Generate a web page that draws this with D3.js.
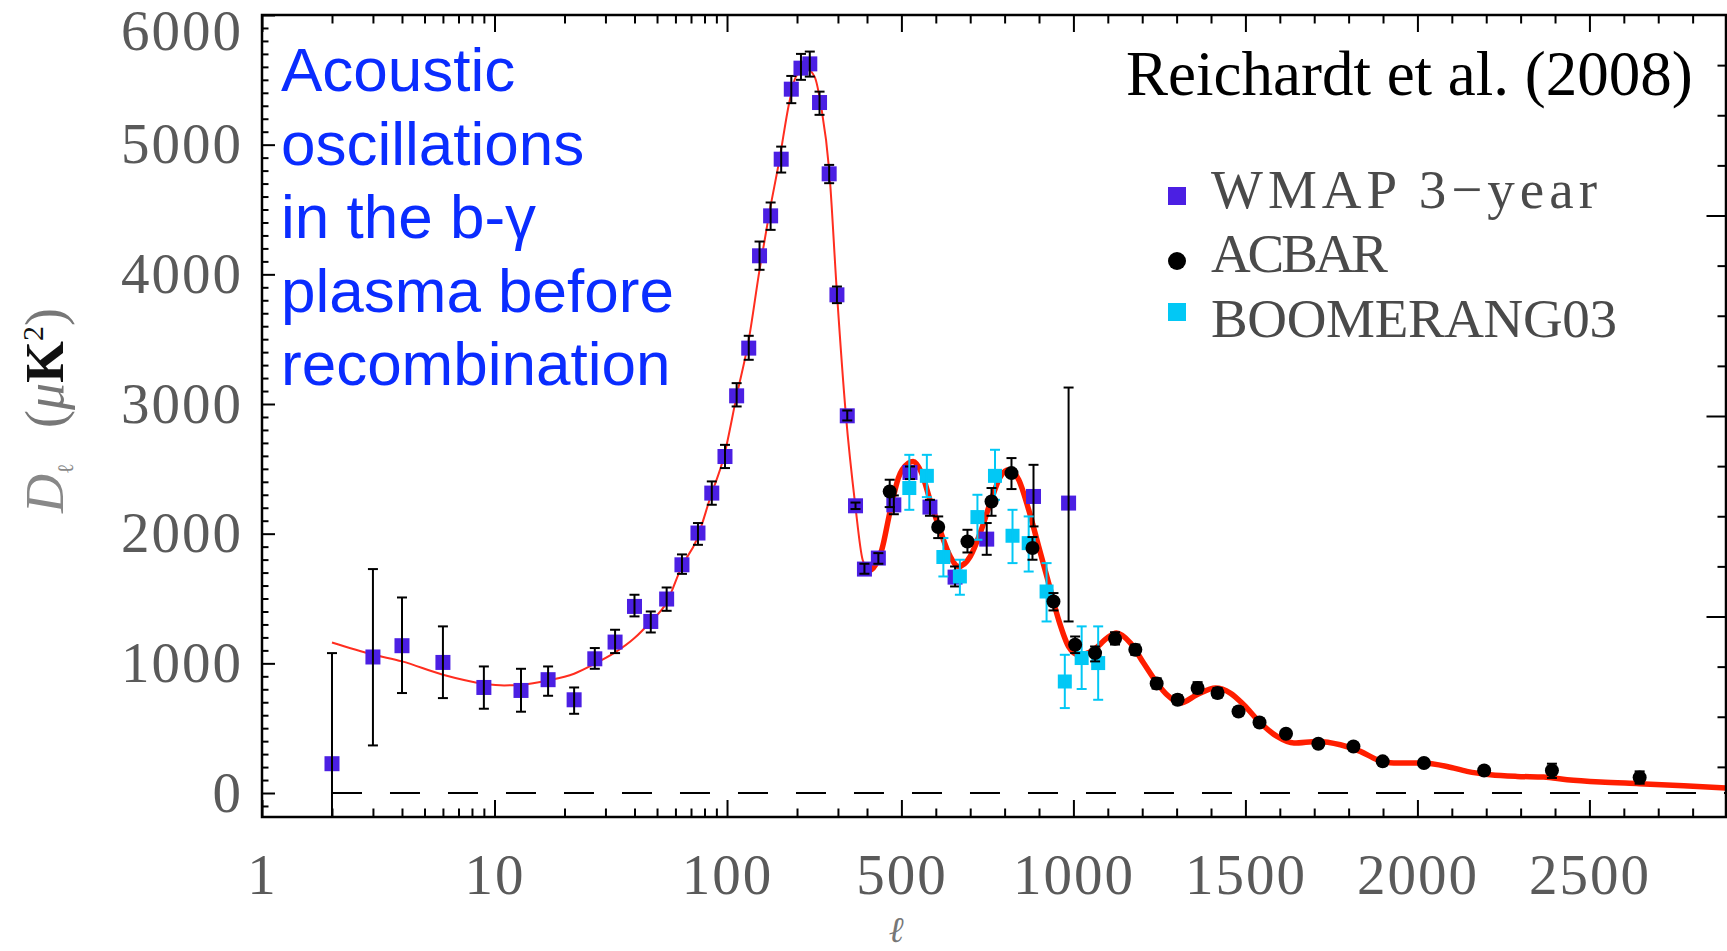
<!DOCTYPE html>
<html lang="en">
<head>
    <meta charset="UTF-8">
    <title>CMB power spectrum - Reichardt et al. (2008)</title>
    <script src="https://d3js.org/d3.v7.min.js"></script>
    <style>
        body { margin: 0; background: #fff; }
        .tick line { stroke: #000; stroke-width: 2; }
        .axis text { font-family: "Liberation Serif", serif; font-size: 57px; fill: #5a5a5a; letter-spacing: 2px; }
        .blue-note { font-family: "Liberation Sans", Arial, sans-serif; font-size: 62px; fill: #0a2cff; }
        .legend text { font-family: "Liberation Serif", serif; font-size: 55px; fill: #4a4a4a; }
    </style>
</head>
<body>
<div id="chart"></div>
<script>
    // WMAP 3-year band powers (ell, D_ell, error bar low / high), uK^2
    const wmapL  = [2, 3, 4, 6, 9, 13, 17, 22, 27, 33, 40, 47, 55, 64, 75, 86, 98, 110, 124, 138, 154, 171, 189, 208, 227, 250, 275, 297, 329, 357, 390, 433, 478, 525, 583, 656, 748, 884, 986];
    const wmapD  = [226, 1049, 1136, 1007, 814, 791, 874, 719, 1035, 1164, 1439, 1323, 1496, 1760, 2005, 2313, 2595, 3063, 3431, 4143, 4451, 4888, 5428, 5590, 5623, 5325, 4775, 3842, 2909, 2215, 1727, 1812, 2222, 2472, 2205, 1665, 1958, 2287, 2236];
    const wmapLo = [-900, 367, 771, 732, 650, 627, 750, 611, 958, 1079, 1362, 1238, 1405, 1690, 1914, 2223, 2506, 2981, 3341, 4035, 4343, 4785, 5320, 5500, 5525, 5230, 4703, 3778, 2873, 2190, 1691, 1768, 2150, 2421, 2138, 1593, 1837, 2056, 1323];
    const wmapHi = [1079, 1727, 1508, 1285, 976, 958, 976, 814, 1118, 1259, 1529, 1400, 1585, 1840, 2082, 2403, 2685, 3161, 3526, 4253, 4554, 4985, 5530, 5700, 5718, 5409, 4844, 3906, 2950, 2240, 1768, 1850, 2295, 2518, 2261, 1747, 2082, 2531, 3127];

    // ACBAR
    const acbarL  = [466, 607, 692, 762, 820, 881, 942, 1005, 1063, 1121, 1180, 1242, 1303, 1361, 1419, 1480, 1541, 1618, 1712, 1814, 1899, 2019, 2194, 2391, 2646];
    const acbarD  = [2325, 2051, 1940, 2248, 2467, 1889, 1477, 1143, 1079, 1190, 1105, 845, 719, 810, 771, 629, 544, 457, 380, 359, 244, 231, 174, 174, 120];
    const acbarLo = [2205, 1966, 1855, 2138, 2344, 1799, 1408, 1079, 1015, 1145, 1065, 805, 685, 770, 735, 600, 515, 430, 355, 335, 220, 208, 150, 116, 72];
    const acbarHi = [2416, 2133, 2030, 2352, 2583, 1974, 1542, 1207, 1130, 1240, 1145, 885, 755, 855, 810, 660, 575, 485, 405, 385, 268, 255, 198, 226, 167];

    // BOOMERANG03
    const boomL  = [523, 574, 622, 670, 721, 772, 823, 870, 922, 975, 1024, 1072];
    const boomD  = [2352, 2446, 1820, 1670, 2128, 2446, 1984, 1927, 1554, 860, 1041, 1002];
    const boomLo = [2184, 2282, 1670, 1529, 1953, 2261, 1773, 1708, 1323, 655, 802, 719];
    const boomHi = [2608, 2608, 1966, 1799, 2300, 2647, 2184, 2133, 1773, 1066, 1285, 1285];

    // best-fit model curve
    const modelL = [2, 3, 4, 6, 9, 11, 13, 17, 22, 27, 33, 40, 47, 55, 64, 74, 85, 97, 110, 124, 138, 152, 168, 185, 198, 218, 238, 254, 275, 297, 324, 356, 383, 405, 418, 443, 467, 491, 520, 534, 559, 583, 612, 642, 666, 700, 729, 758, 788, 812, 841, 870, 899, 928, 957, 986, 1015, 1059, 1098, 1125, 1166, 1204, 1243, 1272, 1311, 1359, 1413, 1456, 1495, 1544, 1592, 1641, 1709, 1776, 1834, 1883, 1931, 2009, 2086, 2144, 2212, 2290, 2367, 2435, 2532, 2645, 2774, 2897];
    const modelD = [1161, 1068, 1015, 912, 843, 830, 835, 868, 920, 997, 1084, 1195, 1323, 1470, 1750, 1953, 2287, 2595, 3063, 3495, 4035, 4472, 4883, 5320, 5525, 5590, 5525, 5294, 4806, 3855, 2930, 2223, 1799, 1715, 1735, 1876, 2171, 2429, 2544, 2557, 2467, 2261, 2030, 1824, 1747, 1824, 2005, 2236, 2441, 2493, 2416, 2184, 1901, 1619, 1336, 1130, 1066, 1105, 1195, 1234, 1156, 1002, 848, 758, 694, 758, 810, 771, 681, 540, 436, 385, 398, 372, 321, 257, 231, 231, 205, 167, 141, 128, 123, 103, 85, 72, 56, 39];

    // axis ticks
    const xMajorLog = [1, 10, 100];
    const xMinorLog = [2, 3, 4, 5, 6, 7, 8, 9, 20, 30, 40, 50, 60, 70, 80, 90, 200, 300];
    const xMajorLin = [500, 1000, 1500, 2000, 2500];
    const xMinorLin = [400, 600, 700, 800, 900, 1100, 1200, 1300, 1400, 1600, 1700, 1800, 1900, 2100, 2200, 2300, 2400, 2600, 2700, 2800];
    const yMajor = [0, 1000, 2000, 3000, 4000, 5000, 6000];
    const yMinor = d3.range(-100, 6000, 100).filter(v => v % 1000 !== 0);

    const legendNames = ["WMAP 3\u2212year", "ACBAR", "BOOMERANG03"];

    const width = 1727, height = 951;
    const frame = { left: 262, right: 1726, top: 15, bottom: 817 };
    const lBreak = 400;

    const svg = d3.select("#chart")
        .append("svg")
        .attr("width", width)
        .attr("height", height);

    // x axis: log below ell=400, linear above
    const xLog = d3.scaleLog().domain([1, lBreak]).range([frame.left, 867]);
    const xLin = d3.scaleLinear().domain([lBreak, 2897]).range([867, frame.right]);
    const x = l => l <= lBreak ? xLog(l) : xLin(l);

    const y = d3.scaleLinear().domain([-185, 6000]).range([frame.bottom, frame.top]);
    const yRight = d3.scaleLinear().domain([0, 16]).range([frame.bottom, frame.top]);

    svg.append("clipPath").attr("id", "plot-clip")
        .append("rect")
        .attr("x", frame.left).attr("y", frame.top)
        .attr("width", frame.right - frame.left).attr("height", frame.bottom - frame.top);

    // axes
    function xAxes(axisFn, ypos, size, labels) {
        [[xLog, xMajorLog, xMinorLog], [xLin, xMajorLin, xMinorLin]].forEach(([sc, major, minor]) => {
            const gMaj = svg.append("g").attr("class", "axis")
                .attr("transform", `translate(0,${ypos})`)
                .call(axisFn(sc).tickValues(major).tickSize(size).tickFormat(labels ? d3.format("d") : ""));
            gMaj.select(".domain").remove();
            if (labels) gMaj.selectAll("text").attr("y", 77).attr("dy", 0).attr("fill", "#5a5a5a");
            const gMin = svg.append("g").attr("class", "axis")
                .attr("transform", `translate(0,${ypos})`)
                .call(axisFn(sc).tickValues(minor).tickSize(size / 2).tickFormat(""));
            gMin.select(".domain").remove();
        });
    }
    xAxes(d3.axisBottom, frame.bottom, -17, true);
    xAxes(d3.axisTop, frame.top, -17, false);

    const yAxisG = svg.append("g").attr("class", "axis")
        .attr("transform", `translate(${frame.left},0)`)
        .call(d3.axisLeft(y).tickValues(yMajor).tickSize(-13).tickPadding(19).tickFormat(d3.format("d")));
    yAxisG.select(".domain").remove();
    yAxisG.selectAll("text").attr("fill", "#5a5a5a").filter(d => d === 6000).attr("y", 16);
    svg.append("g").attr("class", "axis")
        .attr("transform", `translate(${frame.left},0)`)
        .call(d3.axisLeft(y).tickValues(yMinor).tickSize(-6.5).tickFormat(""))
        .select(".domain").remove();

    svg.append("g").attr("class", "axis")
        .attr("transform", `translate(${frame.right},0)`)
        .call(d3.axisRight(yRight).tickValues([4, 8, 12]).tickSize(-19.5).tickFormat(""))
        .select(".domain").remove();
    svg.append("g").attr("class", "axis")
        .attr("transform", `translate(${frame.right},0)`)
        .call(d3.axisRight(yRight).tickValues([1, 2, 3, 5, 6, 7, 9, 10, 11, 13, 14, 15]).tickSize(-8.5).tickFormat(""))
        .select(".domain").remove();

    // zero line
    svg.append("line")
        .attr("x1", x(2)).attr("x2", frame.right)
        .attr("y1", y(0)).attr("y2", y(0))
        .attr("stroke", "#000").attr("stroke-width", 2)
        .attr("stroke-dasharray", "30,28");

    const plot = svg.append("g").attr("clip-path", "url(#plot-clip)");

    // model curve: thin on the log part, thick on the linear part
    const model = modelL.map((l, i) => ({ l: l, d: modelD[i] }));
    const line = d3.line().x(p => x(p.l)).y(p => y(p.d)).curve(d3.curveMonotoneX);
    plot.append("path")
        .datum(model.filter(p => p.l <= 405))
        .attr("d", line)
        .attr("fill", "none").attr("stroke", "#ff2d1f").attr("stroke-width", 2);
    plot.append("path")
        .datum(model.filter(p => p.l >= 405))
        .attr("d", line)
        .attr("fill", "none").attr("stroke", "#ff1e00").attr("stroke-width", 5.5)
        .attr("stroke-linejoin", "round");

    function series(L, D, Lo, Hi) {
        return L.map((l, i) => ({ l: l, d: D[i], lo: Lo[i], hi: Hi[i] }));
    }

    function drawSeries(data, opts) {
        const g = plot.append("g");
        const pts = g.selectAll("g.pt").data(data).enter().append("g").attr("class", "pt");
        if (opts.shape === "circle") {
            pts.append("circle")
                .attr("cx", p => x(p.l)).attr("cy", p => y(p.d))
                .attr("r", opts.size / 2).attr("fill", opts.color);
        } else {
            pts.append("rect")
                .attr("x", p => x(p.l) - opts.size / 2).attr("y", p => y(p.d) - opts.size / 2)
                .attr("width", opts.size).attr("height", opts.size)
                .attr("fill", opts.color);
        }
        pts.append("line")
            .attr("x1", p => x(p.l)).attr("x2", p => x(p.l))
            .attr("y1", p => y(p.lo)).attr("y2", p => y(p.hi))
            .attr("stroke", opts.bar).attr("stroke-width", 2);
        ["lo", "hi"].forEach(k => {
            pts.append("line")
                .attr("x1", p => x(p.l) - 5).attr("x2", p => x(p.l) + 5)
                .attr("y1", p => y(p[k])).attr("y2", p => y(p[k]))
                .attr("stroke", opts.bar).attr("stroke-width", 2);
        });
    }

    drawSeries(series(wmapL, wmapD, wmapLo, wmapHi), { shape: "rect", size: 15, color: "#4b1fe3", bar: "#000" });
    drawSeries(series(boomL, boomD, boomLo, boomHi), { shape: "rect", size: 14, color: "#02c8f5", bar: "#02c8f5" });
    drawSeries(series(acbarL, acbarD, acbarLo, acbarHi), { shape: "circle", size: 14, color: "#000", bar: "#000" });

    // frame
    svg.append("rect")
        .attr("x", frame.left).attr("y", frame.top)
        .attr("width", frame.right - frame.left).attr("height", frame.bottom - frame.top)
        .attr("fill", "none").attr("stroke", "#000").attr("stroke-width", 2.5);

    // axis titles
    svg.append("text")
        .attr("x", 896).attr("y", 942)
        .attr("text-anchor", "middle")
        .style("font-family", "'DejaVu Serif', serif").style("font-style", "italic")
        .style("font-size", "36px").attr("fill", "#777")
        .text("\u2113");

    const yLab = svg.append("g").attr("transform", "translate(63,420) rotate(-90)")
        .style("font-family", "'Liberation Serif', serif").style("font-size", "54px");
    const t1 = yLab.append("text").attr("x", -93).attr("fill", "#888");
    t1.append("tspan").style("font-style", "italic").text("D");
    t1.append("tspan").style("font-family", "'DejaVu Serif', serif").style("font-size", "22px").attr("dy", 10).text("\u2113");
    const t2 = yLab.append("text").attr("x", 52).attr("text-anchor", "middle").attr("fill", "#777");
    t2.append("tspan").text("(");
    t2.append("tspan").style("font-style", "italic").text("\u03bc");
    t2.append("tspan").style("font-weight", "bold").attr("fill", "#111").text("K");
    t2.append("tspan").style("font-size", "30px").attr("dy", -20).attr("fill", "#111").text("2");
    t2.append("tspan").attr("dy", 20).text(")");

    // blue annotation
    const note = ["Acoustic", "oscillations", "in the b-\u03b3", "plasma before", "recombination"];
    svg.append("text").attr("class", "blue-note")
        .selectAll("tspan").data(note).enter().append("tspan")
        .attr("x", 281)
        .attr("y", (d, i) => 91 + i * 73.6)
        .text(d => d);

    // citation
    svg.append("text")
        .attr("x", 1126).attr("y", 95)
        .style("font-family", "'Liberation Serif', serif").style("font-size", "63px")
        .attr("fill", "#000")
        .text("Reichardt et al. (2008)");

    // legend
    const legend = svg.append("g").attr("class", "legend");
    const legendRows = [
        { name: legendNames[0], color: "#4b1fe3", shape: "rect", cy: 196, base: 208, len: 386 },
        { name: legendNames[1], color: "#000", shape: "circle", cy: 261, base: 272, len: 177 },
        { name: legendNames[2], color: "#02c8f5", shape: "rect", cy: 312, base: 337, len: 406 }
    ];
    legendRows.forEach(r => {
        if (r.shape === "circle") {
            legend.append("circle").attr("cx", 1177).attr("cy", r.cy).attr("r", 9).attr("fill", r.color);
        } else {
            legend.append("rect").attr("x", 1168).attr("y", r.cy - 9).attr("width", 18).attr("height", 18).attr("fill", r.color);
        }
        legend.append("text")
            .attr("x", 1211).attr("y", r.base)
            .attr("textLength", r.len).attr("lengthAdjust", "spacing")
            .text(r.name);
    });
</script>
</body>
</html>
